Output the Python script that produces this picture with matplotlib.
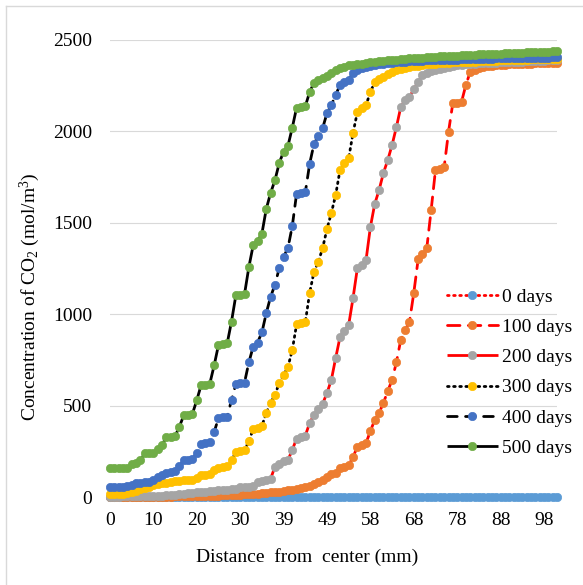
import matplotlib
matplotlib.use("Agg")
import matplotlib.pyplot as plt
from matplotlib.lines import Line2D

plt.rcParams["font.family"] = ["Liberation Serif", "DejaVu Serif"]
plt.rcParams["mathtext.fontset"] = "custom"
plt.rcParams["mathtext.rm"] = "Liberation Serif"
plt.rcParams["mathtext.it"] = "Liberation Serif:italic"

# x positions are mesh nodes; every 10th node is labelled with its distance (mm)
tick_labels = ["0", "10", "20", "30", "39", "49", "58", "68", "78", "88", "98"]
n_nodes = 104

days0 = [0.0] * n_nodes

days100 = [
    0, 0, 0, 0, 0, 0, 0, 1, 1, 1,
    1, 1, 2, 2, 2, 3, 3, 3, 4, 4,
    5, 5, 6, 6, 7, 8, 9, 10, 11, 12,
    13, 14, 15, 17, 19, 21, 23, 25, 28, 30,
    33, 36, 40, 44, 48, 53, 60, 70, 80, 93,
    110, 125, 131, 159, 165, 175, 219, 274, 285, 295,
    361, 421, 460, 514, 580, 640, 738, 859, 914, 957,
    1116, 1300, 1330, 1362, 1570, 1789, 1797, 1805, 1997, 2155,
    2158, 2161, 2254, 2325, 2335, 2347, 2352, 2356, 2359, 2361,
    2363, 2365, 2366, 2367, 2368, 2369, 2370, 2371, 2372, 2372,
    2373, 2374, 2374, 2375,
]

days200 = [
    2, 2, 2, 3, 3, 3, 4, 4, 5, 5,
    6, 7, 8, 9, 10, 12, 15, 18, 20, 22,
    25, 28, 30, 32, 34, 36, 38, 40, 42, 45,
    52, 55, 57, 60, 80, 88, 93, 100, 164, 180,
    195, 202, 257, 320, 328, 335, 405, 449, 480, 510,
    569, 640, 760, 875, 908, 941, 1088, 1252, 1270, 1296,
    1477, 1603, 1679, 1772, 1843, 1926, 2024, 2133, 2172, 2188,
    2230, 2270, 2310, 2320, 2328, 2335, 2342, 2348, 2353, 2358,
    2362, 2365, 2367, 2369, 2371, 2372, 2373, 2374, 2375, 2376,
    2377, 2378, 2379, 2380, 2381, 2382, 2383, 2384, 2385, 2386,
    2387, 2388, 2389, 2390,
]

days300 = [
    18, 18, 19, 19, 20, 28, 35, 45, 48, 52,
    65, 72, 75, 77, 80, 85, 90, 92, 93, 95,
    105, 118, 120, 125, 145, 160, 165, 172, 202, 245,
    250, 255, 305, 372, 378, 388, 460, 514, 558, 624,
    667, 711, 804, 945, 950, 955, 1116, 1231, 1286, 1362,
    1466, 1554, 1652, 1789, 1827, 1854, 1991, 2106, 2128, 2144,
    2215, 2270, 2285, 2298, 2315, 2325, 2335, 2342, 2348, 2353,
    2357, 2360, 2363, 2366, 2368, 2370, 2372, 2374, 2375, 2377,
    2378, 2379, 2380, 2381, 2382, 2383, 2384, 2385, 2386, 2387,
    2388, 2389, 2390, 2391, 2391, 2392, 2393, 2394, 2394, 2395,
    2396, 2396, 2397, 2398,
]

days400 = [
    55, 55, 56, 56, 58, 65, 75, 78, 80, 82,
    95, 108, 120, 133, 137, 140, 170, 200, 205, 208,
    240, 290, 295, 300, 355, 432, 437, 440, 530, 618,
    622, 626, 737, 823, 845, 900, 1005, 1095, 1160, 1252,
    1313, 1362, 1482, 1660, 1663, 1666, 1822, 1931, 1975, 2018,
    2100, 2144, 2199, 2254, 2270, 2281, 2320, 2336, 2345, 2352,
    2358, 2363, 2367, 2371, 2374, 2376, 2378, 2380, 2382, 2384,
    2385, 2386, 2387, 2388, 2389, 2390, 2390, 2391, 2392, 2393,
    2393, 2394, 2395, 2395, 2396, 2397, 2397, 2398, 2398, 2399,
    2399, 2400, 2400, 2401, 2401, 2402, 2402, 2403, 2403, 2404,
    2404, 2404, 2405, 2405,
]

days500 = [
    160, 160, 160, 160, 161, 183, 186, 200, 238, 240,
    243, 262, 285, 328, 330, 333, 385, 447, 450, 455,
    530, 612, 615, 620, 720, 832, 835, 840, 960, 1103,
    1105, 1110, 1258, 1378, 1400, 1440, 1575, 1663, 1732, 1827,
    1890, 1920, 2020, 2130, 2133, 2137, 2215, 2265, 2280, 2290,
    2302, 2320, 2338, 2348, 2355, 2361, 2365, 2368, 2371, 2374,
    2377, 2380, 2383, 2386, 2389, 2391, 2393, 2395, 2397, 2399,
    2401, 2403, 2404, 2406, 2407, 2409, 2410, 2411, 2413, 2414,
    2415, 2417, 2418, 2419, 2420, 2421, 2422, 2423, 2424, 2425,
    2426, 2427, 2428, 2429, 2430, 2431, 2432, 2433, 2434, 2435,
    2436, 2437, 2438, 2440,
]

series_labels = ["0 days", "100 days", "200 days", "300 days", "400 days", "500 days"]
series_values = [days0, days100, days200, days300, days400, days500]
for vals in series_values:
    assert len(vals) == n_nodes, len(vals)

marker_colors = ["#5B9BD5", "#ED7D31", "#A5A5A5", "#FFC000", "#4472C4", "#70AD47"]
line_colors = ["#FF0000", "#FF0000", "#FF0000", "#000000", "#000000", "#000000"]
line_styles = [(0, (0.6, 1.6)), (0, (4.5, 3.0)), "-", (0, (0.6, 1.6)), (0, (3.5, 3.0)), "-"]

W, H = 583, 585
fig = plt.figure(figsize=(W / 100, H / 100), dpi=100)
ax = fig.add_axes([110 / W, 1 - 497 / H, (557 - 110) / W, (497 - 40) / H])

x = list(range(n_nodes))
handles = []
for vals, lab, mc, lc, ls in zip(series_values, series_labels, marker_colors,
                                  line_colors, line_styles):
    ln, = ax.plot(x, vals, color=lc, linestyle=ls, linewidth=2.0,
                  marker="o", markersize=6.0, markerfacecolor=mc,
                  markeredgecolor=mc, markeredgewidth=0.5,
                  dash_capstyle="round", solid_capstyle="butt",
                  clip_on=False, label=lab)
    handles.append(ln)

ax.set_xlim(0, n_nodes - 1)
ax.set_ylim(0, 2500)
ax.set_yticks(range(0, 2501, 500))
ax.set_xticks(range(0, 101, 10))
ax.set_xticklabels(tick_labels)
ax.tick_params(axis="both", length=0, labelsize=14, colors="#000000")
ax.tick_params(axis="y", pad=13)
ax.tick_params(axis="x", pad=11)
ax.grid(axis="y", color="#D9D9D9", linewidth=0.8)
ax.set_axisbelow(True)
for sp in ax.spines.values():
    sp.set_visible(False)

fig.text(307 / W, 1 - 557 / H, "Distance  from  center (mm)", ha="center",
         va="center", fontsize=14)
fig.text(30 / W, 1 - 297 / H, r"Concentration of CO$_2$ (mol/m$^3$)",
         ha="center", va="center", rotation=90, fontsize=14)

ax.legend(handles=handles, loc="upper left",
          bbox_to_anchor=(447 / W, 1 - 288 / H), bbox_transform=fig.transFigure,
          frameon=False, fontsize=14, handlelength=2.6, handletextpad=0.25,
          labelspacing=0.65, borderpad=0, borderaxespad=0, numpoints=1)

# chart-area border (left and top edges)
fig.add_artist(Line2D([6 / W, 6 / W], [0, 1 - 6 / H], transform=fig.transFigure,
                      color="#D9D9D9", linewidth=1.0))
fig.add_artist(Line2D([6 / W, 1], [1 - 6 / H, 1 - 6 / H], transform=fig.transFigure,
                      color="#D9D9D9", linewidth=1.0))

fig.savefig("out.png", dpi=100, facecolor="white")
